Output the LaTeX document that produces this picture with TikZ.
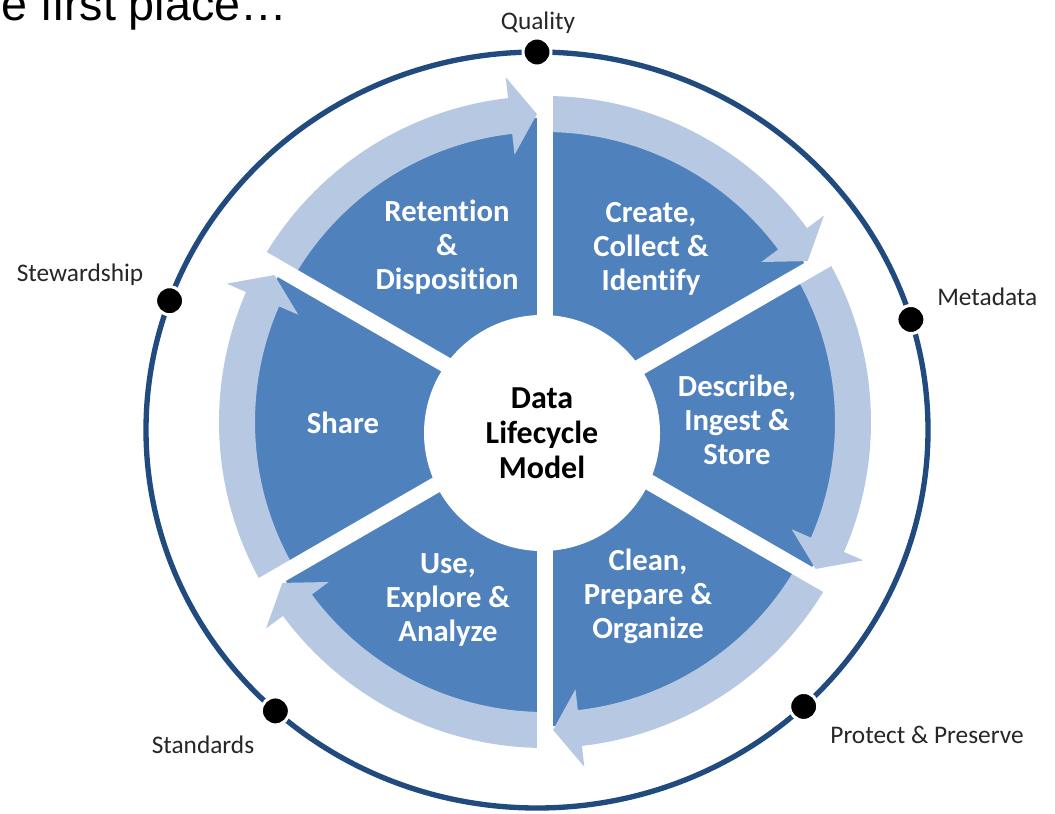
\documentclass[tikz,border=0pt]{standalone}
\usepackage{fontspec}
\setmainfont[Ligatures=NoCommon]{Carlito}
\newfontfamily\arialf[Ligatures=NoCommon]{Liberation Sans}
\usetikzlibrary{calc}
\definecolor{segblue}{RGB}{79,129,189}
\definecolor{bandblue}{RGB}{183,200,226}
\definecolor{ringblue}{RGB}{33,74,126}
\definecolor{labgray}{RGB}{38,38,38}
\begin{document}
\begin{tikzpicture}[x=0.75pt,y=0.75pt,
  seglabel/.style={text=white, font=\fontsize{23}{25.5}\selectfont\bfseries, align=center, inner sep=0},
  centerlabel/.style={circle, fill=white, inner sep=0, minimum size=177pt, align=center, text=black, font=\fontsize{24}{26.25}\selectfont\bfseries},
  ringlabel/.style={text=labgray, font=\fontsize{19}{22}\selectfont, inner sep=0},
  ringdot/.style={circle, fill=black, draw=white, line width=2.25pt, minimum size=21pt, inner sep=0},
  titletext/.style={font=\arialf\fontsize{35}{40}\selectfont, text=black, inner sep=0, anchor=base east}
  ]
\useasboundingbox (0,0) rectangle (1055,-813);
\fill[white] (0,0) rectangle (1055,-813);

% outer ring
\coordinate (R) at (537,-430);
\draw[ringblue, line width=4pt] (R) ellipse [x radius=391, y radius=378];

% wheel
\begin{scope}[shift={(545,-422)}]
  \foreach \m in {120,60,0,-60,-120,-180} {
    \pgfmathsetmacro\aa{\m+30}
    \pgfmathsetmacro\ab{\m-30}
    \fill[segblue] (\aa:304) arc[start angle=\aa, end angle=\ab, radius=304]
      -- (\ab:100) arc[start angle=\ab, end angle=\aa, radius=100] -- cycle;
  }
  \foreach \m in {120,60,0,-60,-120,-180} {
    \pgfmathsetmacro\aa{\m+30}
    \pgfmathsetmacro\tp{\m-30+1.5}
    \pgfmathsetmacro\bs{\m-30+6.5}
    \fill[bandblue] (\aa:326) arc[start angle=\aa, end angle=\bs, radius=326]
      -- (\bs:347) -- (\tp:308) -- (\bs:269) -- (\bs:290)
      arc[start angle=\bs, end angle=\aa, radius=290] -- cycle;
  }
  \foreach \g in {90,30,-30,-90,-150,150}
    \draw[white, line width=12pt] (0,0) -- (\g:352);
\end{scope}

% centre
\node[centerlabel] (model) at (542,-433) {Data\\Lifecycle\\Model};

% segment labels
\node[seglabel] (ret) at (447,-247) {Retention\\\&\\Disposition};
\node[seglabel] (cre) at (651,-249) {Create,\\Collect \&\\Identify};
\node[seglabel] (des) at (737,-420) {Describe,\\Ingest \&\\Store};
\node[seglabel] (cle) at (648,-596) {Clean,\\Prepare \&\\Organize};
\node[seglabel] (use) at (448,-600) {Use,\\Explore \&\\Analyze};
\node[seglabel] (sha) at (343,-423) {Share};

% ring dots
\node[ringdot] (dq) at ($(R)+(90:391 and 378)$) {};
\node[ringdot] (dm) at ($(R)+(17:391 and 378)$) {};
\node[ringdot] (dp) at ($(R)+(-47:391 and 378)$) {};
\node[ringdot] (ds) at ($(R)+(-132:391 and 378)$) {};
\node[ringdot] (dw) at ($(R)+(160:391 and 378)$) {};

% ring labels
\node[ringlabel] (lq) at (538,-23) {Quality};
\node[ringlabel, anchor=west] (lm) at (937,-297) {Metadata};
\node[ringlabel] (lp) at (927,-735) {Protect \& Preserve};
\node[ringlabel] (ls) at (203,-745) {Standards};
\node[ringlabel] (lw) at (80,-275) {Stewardship};

% title fragment (cut at the page edge, as in the reference)
\node[titletext] (title) at (287.5,-20.5) {e first place…};
\end{tikzpicture}
\end{document}
